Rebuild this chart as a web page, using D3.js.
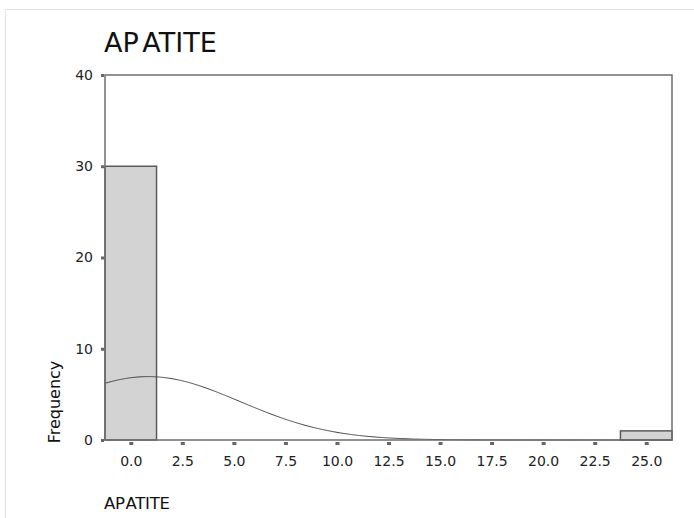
<!DOCTYPE html>
<html>
<head>
<meta charset="utf-8">
<script src="https://cdn.jsdelivr.net/npm/d3@7"></script>
<style>
  body { margin: 0; background: #fff; }
  svg { display: block; font-family: "DejaVu Sans", sans-serif; }
</style>
</head>
<body>
<div id="chart"></div>
<script>
// histogram bins (bin width 2.5, centred on the tick values)
var binStarts = [-1.25, 1.25, 3.75, 6.25, 8.75, 11.25, 13.75, 16.25, 18.75, 21.25, 23.75];
var binCounts = [30, 0, 0, 0, 0, 0, 0, 0, 0, 0, 1];
var binWidth = 2.5;

var xTicks = [0, 2.5, 5, 7.5, 10, 12.5, 15, 17.5, 20, 22.5, 25];
var yTicks = [0, 10, 20, 30, 40];

// fitted normal curve parameters
var curveMean = 0.85;
var curveSD = 4.45;

var width = 694, height = 518;
var margin = {left: 105, right: 22, top: 75, bottom: 78};

var svg = d3.select("#chart").append("svg")
  .attr("width", width)
  .attr("height", height);

// faint outer frame
svg.append("line").attr("x1", 5.5).attr("y1", 9.5).attr("x2", 694).attr("y2", 9.5)
  .attr("stroke", "#e2e2e2");
svg.append("line").attr("x1", 5.5).attr("y1", 9.5).attr("x2", 5.5).attr("y2", 518)
  .attr("stroke", "#e2e2e2");

var x = d3.scaleLinear()
  .domain([-1.25, 26.25])
  .range([margin.left, width - margin.right]);

var y = d3.scaleLinear()
  .domain([0, 40])
  .range([height - margin.bottom, margin.top]);

// bars
svg.selectAll("rect.bar")
  .data(binStarts.map(function(s, i) { return {x0: s, n: binCounts[i]}; }).filter(function(d) { return d.n > 0; }))
  .enter().append("rect")
  .attr("class", "bar")
  .attr("x", function(d) { return x(d.x0); })
  .attr("y", function(d) { return y(d.n); })
  .attr("width", function(d) { return x(d.x0 + binWidth) - x(d.x0); })
  .attr("height", function(d) { return y(0) - y(d.n); })
  .attr("fill", "#d3d3d3")
  .attr("stroke", "#5a5a5a")
  .attr("stroke-width", 1.5);

// normal curve
var total = d3.sum(binCounts);
var peak = total * binWidth / (curveSD * Math.sqrt(2 * Math.PI));
var curvePts = d3.range(-1.25, 26.26, 0.05).map(function(v) {
  var z = (v - curveMean) / curveSD;
  return [v, peak * Math.exp(-0.5 * z * z)];
});
svg.append("path")
  .datum(curvePts)
  .attr("fill", "none")
  .attr("stroke", "#444")
  .attr("stroke-width", 1)
  .attr("d", d3.line().x(function(d) { return x(d[0]); }).y(function(d) { return y(d[1]); }));

// plot frame
svg.append("rect")
  .attr("x", x.range()[0])
  .attr("y", y.range()[1])
  .attr("width", x.range()[1] - x.range()[0])
  .attr("height", y.range()[0] - y.range()[1])
  .attr("fill", "none")
  .attr("stroke", "#6e6e6e")
  .attr("stroke-width", 1.5);

// x axis
var xAxis = svg.append("g")
  .attr("transform", "translate(0," + y(0) + ")")
  .call(d3.axisBottom(x).tickValues(xTicks).tickFormat(d3.format(".1f")).tickSize(0).tickPadding(16));
xAxis.select(".domain").remove();
xAxis.selectAll("text").attr("font-size", 14).attr("fill", "#222").attr("font-family", "DejaVu Sans");
xAxis.selectAll(".tick").append("rect")
  .attr("x", -2).attr("y", 2).attr("width", 4).attr("height", 3)
  .attr("fill", "#666");

// y axis
var yAxis = svg.append("g")
  .attr("transform", "translate(" + x.range()[0] + ",0)")
  .call(d3.axisLeft(y).tickValues(yTicks).tickSize(0).tickPadding(12));
yAxis.select(".domain").remove();
yAxis.selectAll("text").attr("font-size", 14).attr("fill", "#222").attr("font-family", "DejaVu Sans");
yAxis.selectAll(".tick").append("rect")
  .attr("x", -4).attr("y", -1.5).attr("width", 3).attr("height", 3)
  .attr("fill", "#666");

// titles
svg.append("text")
  .attr("x", 104).attr("y", 52)
  .attr("font-size", 27)
  .attr("word-spacing", -5)
  .attr("fill", "#111")
  .text("AP ATITE");

svg.append("text")
  .attr("x", 104).attr("y", 509)
  .attr("font-size", 16.5)
  .attr("word-spacing", -4)
  .attr("letter-spacing", -0.3)
  .attr("fill", "#111")
  .text("AP ATITE");

svg.append("text")
  .attr("transform", "translate(60,402) rotate(-90)")
  .attr("text-anchor", "middle")
  .attr("font-size", 16)
  .attr("fill", "#111")
  .text("Frequency");
</script>
</body>
</html>
